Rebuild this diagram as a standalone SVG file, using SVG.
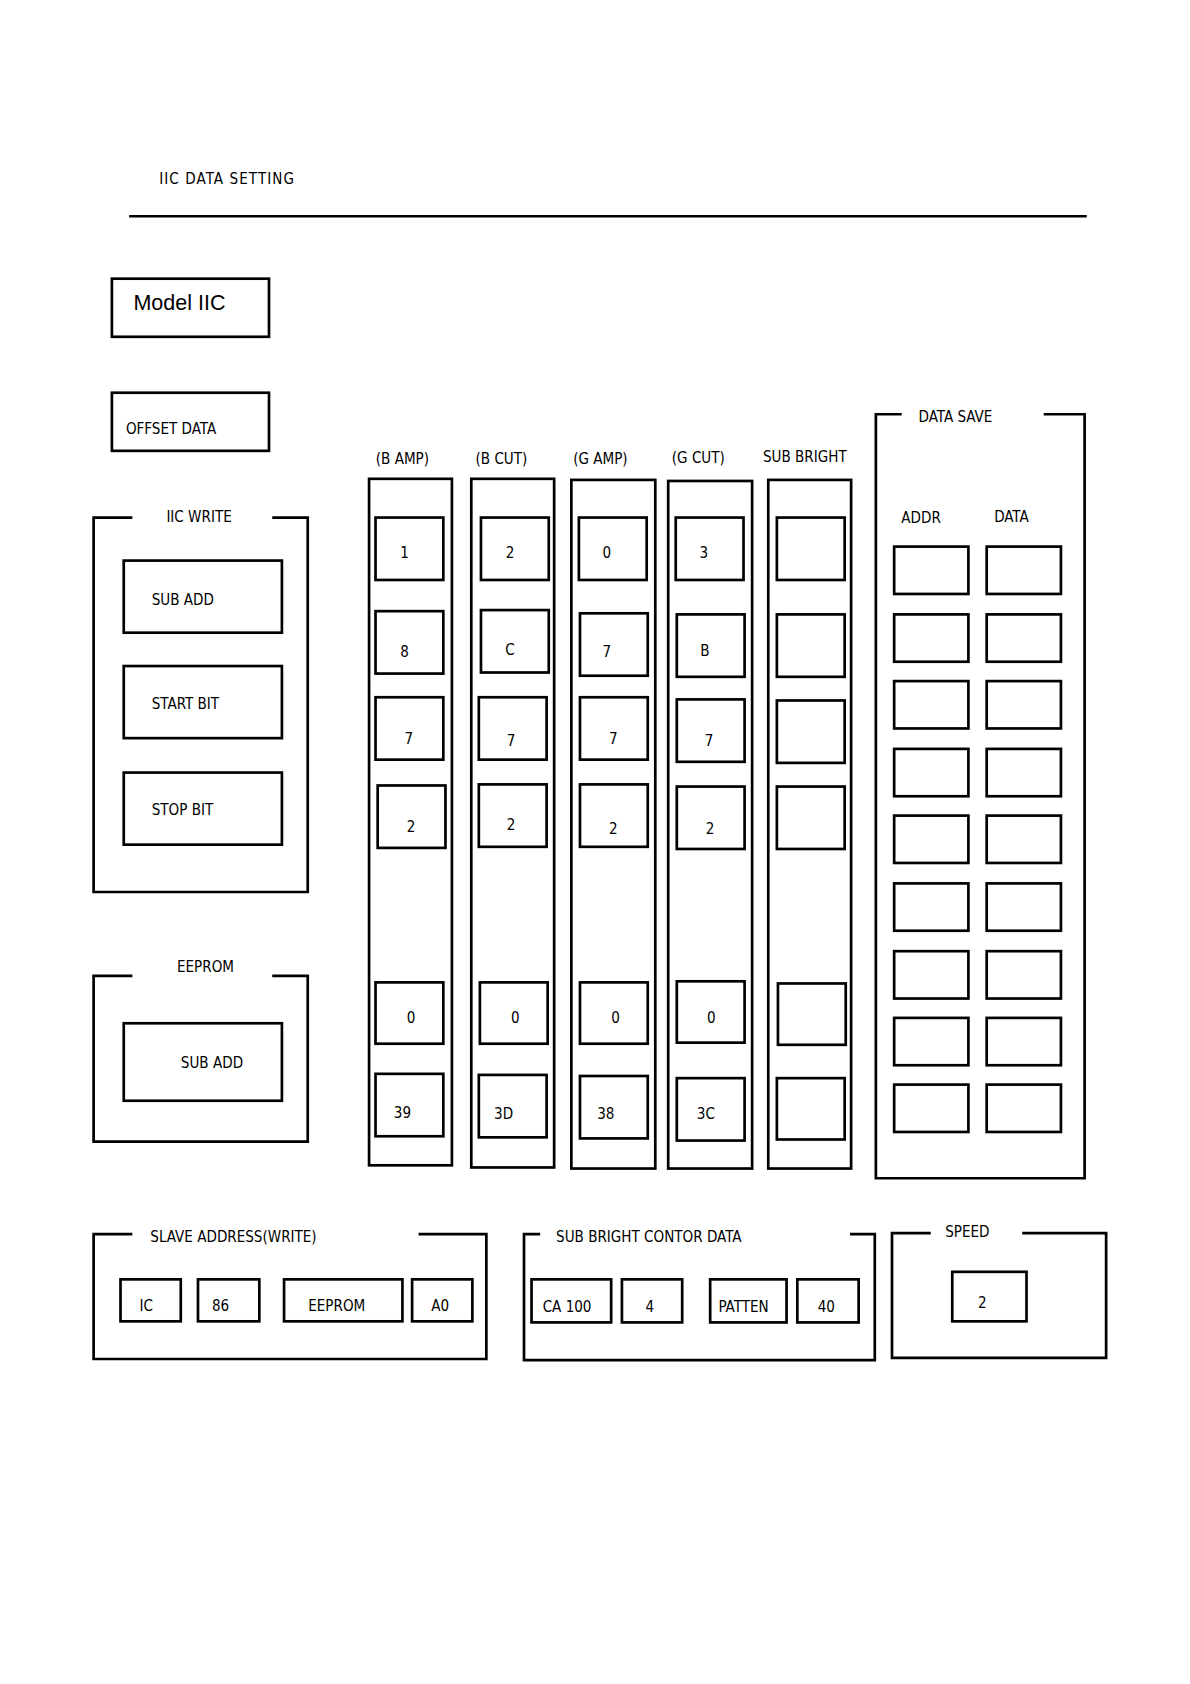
<svg xmlns="http://www.w3.org/2000/svg" width="1190" height="1684" viewBox="0 0 1190 1684">
<style>
rect,path,line{fill:none;stroke:#000;stroke-width:2.5}
rect.bg{fill:#fff;stroke:none}
text{font-family:"DejaVu Sans Condensed","Liberation Sans",sans-serif;font-size:14px;text-anchor:middle;fill:#000}
</style>
<rect class="bg" width="1190" height="1684"/>
<g transform="scale(1.076)">
<g id="header"><text x="148" y="171" style="text-anchor:start" letter-spacing="1">IIC DATA SETTING</text><line x1="120" y1="201" x2="1010" y2="201"/></g>
<g id="model"><rect x="104" y="259" width="146" height="54"/><text x="124" y="288" style="text-anchor:start;font-family:'Liberation Sans',sans-serif;font-size:20px">Model IIC</text></g>
<g id="offset"><rect x="104" y="365" width="146" height="54"/><text x="117" y="403" style="text-anchor:start">OFFSET DATA</text></g>
<g id="iicwrite"><path d="M123 481H87V829H286V481H253"/><text x="185" y="485">IIC WRITE</text>
<rect x="115" y="521" width="147" height="67"/><text x="141" y="562" style="text-anchor:start">SUB ADD</text>
<rect x="115" y="619" width="147" height="67"/><text x="141" y="659" style="text-anchor:start">START BIT</text>
<rect x="115" y="718" width="147" height="67"/><text x="141" y="757" style="text-anchor:start">STOP BIT</text></g>
<g id="eeprom"><path d="M123 907H87V1061H286V907H253"/><text x="191" y="903">EEPROM</text>
<rect x="115" y="951" width="147" height="72"/><text x="197" y="993">SUB ADD</text></g>
<g id="bamp"><text x="374" y="431">(B AMP)</text><rect x="343" y="445" width="77" height="638"/>
<rect x="349" y="481" width="63" height="58"/><text x="376" y="519">1</text>
<rect x="349" y="568" width="63" height="58"/><text x="376" y="611">8</text>
<rect x="349" y="648" width="63" height="58"/><text x="380" y="691">7</text>
<rect x="351" y="730" width="63" height="58"/><text x="382" y="773">2</text>
<rect x="349" y="913" width="63" height="57"/><text x="382" y="951">0</text>
<rect x="349" y="998" width="63" height="58"/><text x="374" y="1039">39</text></g>
<g id="bcut"><text x="466" y="431">(B CUT)</text><rect x="438" y="445" width="77" height="640"/>
<rect x="447" y="481" width="63" height="58"/><text x="474" y="519">2</text>
<rect x="447" y="567" width="63" height="58"/><text x="474" y="609">C</text>
<rect x="445" y="648" width="63" height="58"/><text x="475" y="693">7</text>
<rect x="445" y="729" width="63" height="58"/><text x="475" y="771">2</text>
<rect x="446" y="913" width="63" height="57"/><text x="479" y="951">0</text>
<rect x="445" y="999" width="63" height="58"/><text x="468" y="1040">3D</text></g>
<g id="gamp"><text x="558" y="431">(G AMP)</text><rect x="531" y="446" width="78" height="640"/>
<rect x="538" y="481" width="63" height="58"/><text x="564" y="519">0</text>
<rect x="539" y="570" width="63" height="58"/><text x="564" y="611">7</text>
<rect x="539" y="648" width="63" height="58"/><text x="570" y="691">7</text>
<rect x="539" y="729" width="63" height="58"/><text x="570" y="775">2</text>
<rect x="539" y="913" width="63" height="57"/><text x="572" y="951">0</text>
<rect x="539" y="1000" width="63" height="58"/><text x="563" y="1040">38</text></g>
<g id="gcut"><text x="649" y="430">(G CUT)</text><rect x="621" y="447" width="78" height="639"/>
<rect x="628" y="481" width="63" height="58"/><text x="654" y="519">3</text>
<rect x="629" y="571" width="63" height="58"/><text x="655" y="610">B</text>
<rect x="629" y="650" width="63" height="58"/><text x="659" y="693">7</text>
<rect x="629" y="731" width="63" height="58"/><text x="660" y="775">2</text>
<rect x="629" y="912" width="63" height="57"/><text x="661" y="951">0</text>
<rect x="629" y="1002" width="63" height="58"/><text x="656" y="1040">3C</text></g>
<g id="subbright"><text x="748" y="429">SUB BRIGHT</text><rect x="714" y="446" width="77" height="640"/>
<rect x="722" y="481" width="63" height="58"/><rect x="722" y="571" width="63" height="58"/>
<rect x="722" y="651" width="63" height="58"/><rect x="722" y="731" width="63" height="58"/>
<rect x="723" y="914" width="63" height="57"/><rect x="722" y="1002" width="63" height="57"/></g>
<g id="datasave"><path d="M838 385H814V1095H1008V385H970"/><text x="888" y="392">DATA SAVE</text>
<text x="856" y="486">ADDR</text><text x="940" y="485">DATA</text>
<g><rect x="831" y="508" width="69" height="44"/><rect x="917" y="508" width="69" height="44"/>
<rect x="831" y="571" width="69" height="44"/><rect x="917" y="571" width="69" height="44"/>
<rect x="831" y="633" width="69" height="44"/><rect x="917" y="633" width="69" height="44"/>
<rect x="831" y="696" width="69" height="44"/><rect x="917" y="696" width="69" height="44"/>
<rect x="831" y="758" width="69" height="44"/><rect x="917" y="758" width="69" height="44"/>
<rect x="831" y="821" width="69" height="44"/><rect x="917" y="821" width="69" height="44"/>
<rect x="831" y="884" width="69" height="44"/><rect x="917" y="884" width="69" height="44"/>
<rect x="831" y="946" width="69" height="44"/><rect x="917" y="946" width="69" height="44"/>
<rect x="831" y="1008" width="69" height="44"/><rect x="917" y="1008" width="69" height="44"/></g></g>
<g id="slave"><path d="M123 1147H87V1263H452V1147H389"/><text x="217" y="1154">SLAVE ADDRESS(WRITE)</text>
<rect x="112" y="1189" width="56" height="39"/><text x="136" y="1218">IC</text>
<rect x="184" y="1189" width="57" height="39"/><text x="205" y="1218">86</text>
<rect x="264" y="1189" width="110" height="39"/><text x="313" y="1218">EEPROM</text>
<rect x="383" y="1189" width="56" height="39"/><text x="409" y="1218">A0</text></g>
<g id="subbrightdata"><path d="M502 1147H487V1264H813V1147H790"/><text x="603" y="1154">SUB BRIGHT CONTOR DATA</text>
<rect x="494" y="1189" width="74" height="40"/><text x="527" y="1219">CA 100</text>
<rect x="578" y="1189" width="56" height="40"/><text x="604" y="1219">4</text>
<rect x="660" y="1189" width="71" height="40"/><text x="691" y="1219">PATTEN</text>
<rect x="741" y="1189" width="57" height="40"/><text x="768" y="1219">40</text></g>
<g id="speed"><path d="M865 1146H829V1262H1028V1146H950"/><text x="899" y="1150">SPEED</text>
<rect x="885" y="1182" width="69" height="46"/><text x="913" y="1216">2</text></g>
</g>
</svg>
